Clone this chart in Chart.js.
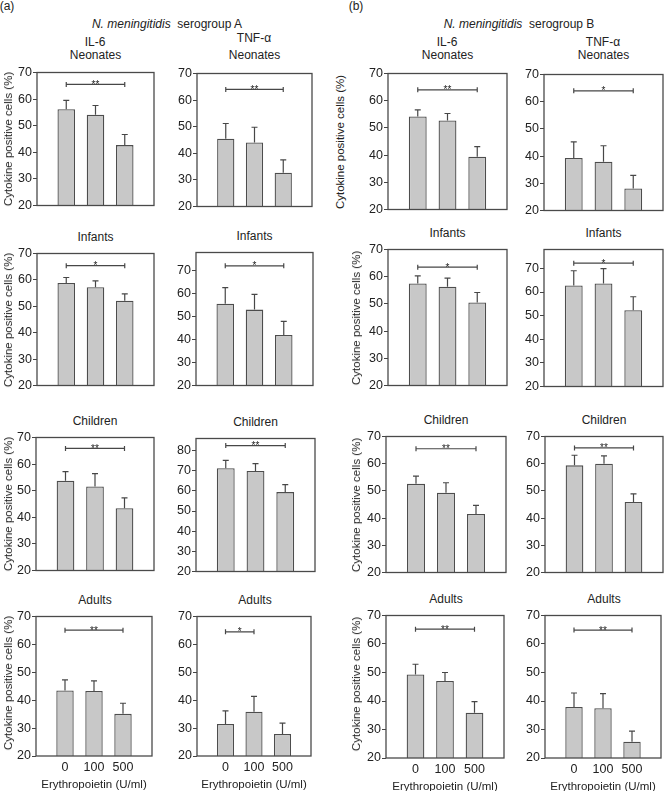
<!DOCTYPE html>
<html>
<head>
<meta charset="utf-8">
<script src="https://cdn.jsdelivr.net/npm/chart.js@4.4.0/dist/chart.umd.min.js"></script>
<style>
  body { margin: 0; background: #fff; overflow: hidden; }
  #fig { position: relative; width: 666px; height: 791px; font-family: "Liberation Sans", Arial, sans-serif; color: #222; font-size: 12px; }
  .t { position: absolute; transform: translate(-50%, -50%); white-space: nowrap; }
  .yt { position: absolute; transform: translate(-50%, -50%) rotate(-90deg); white-space: nowrap; font-size: 11.5px; }
  canvas { position: absolute; }
</style>
</head>
<body>
<div id="fig"></div>
<script>
// x categories: erythropoietin dose (U/ml)
const doses = ['0', '100', '500'];
const ages = ['Neonates', 'Infants', 'Children', 'Adults'];

// mean % cytokine positive cells, one row per age group
const aIL6 = [[56.2, 54.1, 42.7], [58.8, 57.2, 52.1], [53.7, 51.6, 43.4], [43.5, 43.3, 35.1]];
const aIL6Err = [[3.3, 3.5, 4.0], [2.1, 2.4, 2.6], [3.5, 4.8, 3.9], [3.8, 3.6, 3.8]];
const aTNF = [[45.5, 44.1, 32.7], [55.7, 53.1, 42.0], [71.2, 69.9, 59.4], [31.5, 35.9, 27.9]];
const aTNFErr = [[5.7, 5.7, 4.8], [7.0, 6.6, 6.0], [3.9, 3.6, 3.7], [4.7, 5.5, 3.9]];
const bIL6 = [[54.2, 52.7, 39.4], [57.5, 56.3, 50.5], [52.6, 49.3, 41.5], [49.3, 47.0, 35.9]];
const bIL6Err = [[2.4, 2.6, 3.7], [2.8, 3.2, 3.7], [2.8, 3.7, 3.2], [3.6, 3.0, 3.9]];
const bTNF = [[39.3, 37.9, 28.1], [62.8, 63.6, 52.3], [59.4, 60.0, 45.9], [37.9, 37.5, 25.7]];
const bTNFErr = [[5.9, 5.9, 4.8], [6.2, 6.3, 5.7], [3.7, 2.9, 3.0], [4.9, 5.1, 3.7]];

// significance brackets: stars, height (y value), last bar of the bracket
const aIL6Sig = ['**', '*', '**', '**'];
const aIL6SigY = [65.5, 65.4, 65.9, 65.1];
const aTNFSig = ['**', '*', '**', '*'];
const aTNFSigY = [64, 72.2, 82.5, 64.5];
const aTNFSigTo = [3, 3, 3, 2];
const bIL6Sig = ['**', '*', '**', '**'];
const bIL6SigY = [64, 63.5, 65.5, 65.2];
const bTNFSig = ['*', '*', '**', '**'];
const bTNFSigY = [64, 72.2, 65.8, 64.9];

// y axis tops (bottom is always 20)
const aTNFMax = [70, 78, 86, 70];
const bTNFMax = [70, 78, 70, 70];

// plot boxes on the page: left, top, right, bottom
const boxes = {
  aIL6: [[37, 66, 154, 212], [37, 247, 154, 392], [36, 431, 154, 577], [36, 610, 154, 756]],
  aTNF: [[197, 67, 312, 213], [196, 246, 313, 392], [196, 432, 315, 578], [197, 610, 313, 756]],
  bIL6: [[388, 67, 507, 216], [388, 243, 507, 392], [386, 430, 506, 579], [386, 609, 506, 758]],
  bTNF: [[544, 68, 663, 217], [544, 243, 663, 393], [545, 430, 663, 579], [545, 609, 663, 758]]
};

const fig = document.getElementById('fig');
const tickFont = { family: '"Liberation Sans", Arial, sans-serif', size: 12.5 };

function addText(html, x, y, cls) {
  const d = document.createElement('div');
  d.className = cls || 't';
  d.innerHTML = html;
  d.style.left = x + 'px';
  d.style.top = y + 'px';
  fig.appendChild(d);
}

// error bars, significance bracket and the frame round the plot
function overlay(means, errs, level, to, stars) {
  return {
    id: 'overlay',
    afterDatasetsDraw(chart) {
      const ctx = chart.ctx, a = chart.chartArea, ys = chart.scales.y;
      const bars = chart.getDatasetMeta(0).data;
      ctx.save();
      ctx.strokeStyle = '#474747';
      ctx.lineWidth = 1.2;
      means.forEach((m, i) => {
        const b = bars[i + 1];
        const yt = ys.getPixelForValue(m + errs[i]);
        ctx.beginPath();
        ctx.moveTo(b.x, b.y); ctx.lineTo(b.x, yt);
        ctx.moveTo(b.x - 3, yt); ctx.lineTo(b.x + 3, yt);
        ctx.stroke();
      });
      const x1 = bars[1].x, x2 = bars[to].x, yb = ys.getPixelForValue(level);
      ctx.beginPath();
      ctx.moveTo(x1, yb); ctx.lineTo(x2, yb);
      ctx.moveTo(x1, yb - 2.5); ctx.lineTo(x1, yb + 2.5);
      ctx.moveTo(x2, yb - 2.5); ctx.lineTo(x2, yb + 2.5);
      ctx.stroke();
      ctx.fillStyle = '#222';
      ctx.font = '10px "Liberation Sans", Arial, sans-serif';
      ctx.textAlign = 'center';
      ctx.textBaseline = 'alphabetic';
      ctx.fillText(stars, (x1 + x2) / 2, yb + 3.5);
      ctx.lineWidth = 1.3;
      ctx.strokeStyle = '#4a4a4a';
      ctx.strokeRect(a.left, a.top, a.right - a.left, a.bottom - a.top);
      ctx.restore();
    }
  };
}

function panel(box, means, errs, yMax, level, to, stars, last) {
  const [L, T, R, B] = box;
  const xh = last ? 36 : 2;
  const cv = document.createElement('canvas');
  const w = R - L + 34, h = B - T + 2 + xh;
  cv.width = w; cv.height = h;
  cv.style.width = w + 'px'; cv.style.height = h + 'px';
  cv.style.left = (L - 32) + 'px';
  cv.style.top = (T - 2) + 'px';
  fig.appendChild(cv);

  new Chart(cv, {
    type: 'bar',
    data: {
      labels: ['', ...doses, ''],
      datasets: [{
        data: [null, ...means, null],
        backgroundColor: '#c8c8c8',
        borderColor: '#4d4d4d',
        borderWidth: 1.3,
        barPercentage: 0.6,
        categoryPercentage: 1
      }]
    },
    options: {
      responsive: false,
      animation: false,
      devicePixelRatio: 1,
      layout: { padding: { left: 0, top: 2, right: 2, bottom: 0 } },
      plugins: { legend: { display: false }, tooltip: { enabled: false } },
      scales: {
        x: {
          offset: false,
          grid: { display: false, drawTicks: false },
          border: { display: false },
          ticks: { display: last, font: tickFont, color: '#222', padding: 4, autoSkip: false, maxRotation: 0 },
          title: { display: last, text: 'Erythropoietin (U/ml)', font: { family: tickFont.family, size: 11.5 }, color: '#222', padding: 0 },
          afterFit: s => { s.height = xh; }
        },
        y: {
          min: 20,
          max: yMax,
          ticks: { stepSize: 10, includeBounds: false, autoSkip: false, font: tickFont, color: '#222', padding: 1 },
          grid: { drawOnChartArea: false, tickLength: 4, color: '#444' },
          border: { display: false },
          afterBuildTicks: s => { s.ticks = s.ticks.filter(t => t.value % 10 === 0); },
          afterFit: s => { s.width = 32; }
        }
      }
    },
    plugins: [overlay(means, errs, level, to, stars)]
  });
}

// headings
addText('(a)', 7, 6);
addText('(b)', 356, 6);
addText('<i>N. meningitidis</i>&nbsp; serogroup A', 167, 24);
addText('<i>N. meningitidis</i>&nbsp; serogroup B', 519, 24);
addText('IL-6', 95, 42);
addText('TNF-α', 254, 38);
addText('IL-6', 447, 42);
addText('TNF-α', 603, 42);

for (let r = 0; r < 4; r++) {
  const last = r === 3;
  const cols = [
    [boxes.aIL6[r], aIL6[r], aIL6Err[r], 70, aIL6SigY[r], 3, aIL6Sig[r]],
    [boxes.aTNF[r], aTNF[r], aTNFErr[r], aTNFMax[r], aTNFSigY[r], aTNFSigTo[r], aTNFSig[r]],
    [boxes.bIL6[r], bIL6[r], bIL6Err[r], 70, bIL6SigY[r], 3, bIL6Sig[r]],
    [boxes.bTNF[r], bTNF[r], bTNFErr[r], bTNFMax[r], bTNFSigY[r], 3, bTNFSig[r]]
  ];
  cols.forEach((c, k) => {
    const [L, T, R, B] = c[0];
    panel(c[0], c[1], c[2], c[3], c[4], c[5], c[6], last);
    addText(ages[r], (L + R) / 2, r === 0 ? 55 : T - 10);
    if (k === 0) addText('Cytokine positive cells (%)', 8, (T + B) / 2, 'yt');
    if (k === 2) addText('Cytokine positive cells (%)', r === 0 ? 340 : 356, (T + B) / 2, 'yt');
  });
}
</script>
</body>
</html>
